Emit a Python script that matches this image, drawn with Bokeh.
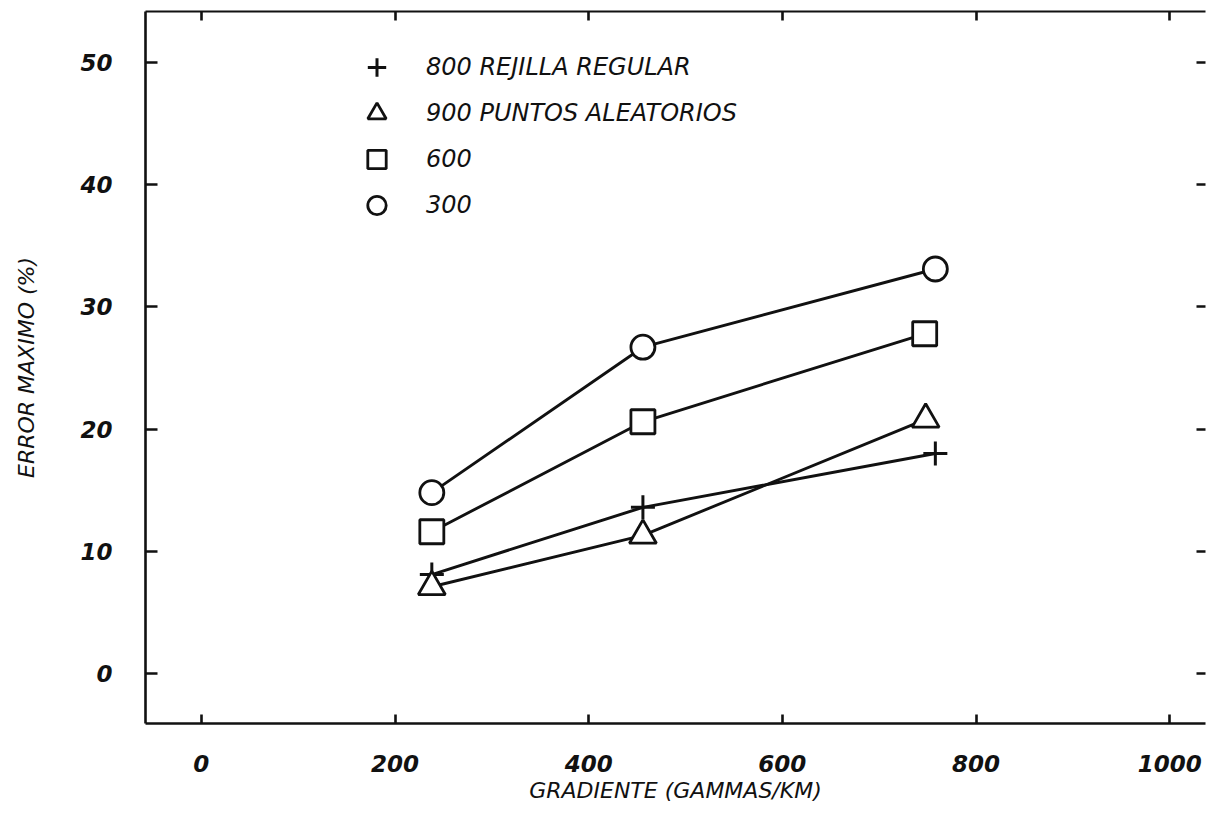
from bokeh.plotting import figure
from bokeh.models import Range1d, LinearAxis, FixedTicker, Legend, LegendItem, CustomLabelingPolicy
from bokeh.embed import file_html
from bokeh.resources import INLINE

# ---- data ----
grad_plus = [238, 456, 758]          # 800 rejilla regular
err_plus = [8.1, 13.6, 18.0]
grad_tri = [238, 456, 748]           # 900 puntos aleatorios
err_tri = [7.1, 11.3, 20.8]
grad_sq = [238, 456, 747]            # 600
err_sq = [11.6, 20.6, 27.8]
grad_circ = [238, 456, 758]          # 300
err_circ = [14.8, 26.7, 33.1]

x_ticks = [0, 200, 400, 600, 800, 1000]
y_ticks = [0, 10, 20, 30, 40, 50]
labels = ["800 REJILLA REGULAR", "900 PUNTOS ALEATORIOS", "600", "300"]

FONT = "DejaVu Sans"
INK = "#111111"

p = figure(width=1209, height=805, output_backend="svg", toolbar_location=None,
           x_range=Range1d(-57.7, 1037.0), y_range=Range1d(-4.09, 54.17),
           min_border_left=145, min_border_right=0, min_border_top=11, min_border_bottom=82)
p.outline_line_color = None
p.grid.visible = False
p.background_fill_color = "white"
p.border_fill_color = "white"

# main axes
for ax in (p.xaxis[0], p.yaxis[0]):
    ax.major_tick_out = 0
    ax.minor_tick_line_color = None
    ax.axis_line_width = 2.6
    ax.axis_line_color = INK
    ax.major_tick_line_width = 2.6
    ax.major_tick_line_color = INK
    ax.major_label_text_font = FONT
    ax.major_label_text_font_style = "bold italic"
    ax.major_label_text_font_size = "23px"
    ax.major_label_text_color = INK
    ax.axis_label_text_font = FONT
    ax.axis_label_text_font_style = "italic"
    ax.axis_label_text_font_size = "22px"
    ax.axis_label_text_color = INK

p.xaxis[0].major_tick_in = 9
p.yaxis[0].major_tick_in = 12
p.xaxis[0].ticker = FixedTicker(ticks=x_ticks)
p.yaxis[0].ticker = FixedTicker(ticks=y_ticks)
p.xaxis[0].axis_label = "GRADIENTE (GAMMAS/KM)"
p.yaxis[0].axis_label = "ERROR MAXIMO (%)"
p.xaxis[0].major_label_standoff = 31
p.xaxis[0].axis_label_standoff = 3
p.yaxis[0].major_label_standoff = 33
p.yaxis[0].axis_label_standoff = 38

# top and right frame axes (ticks only, no labels)
no_labels = CustomLabelingPolicy(code="""
const keep = []
for (const i of indices) { keep.push(i) }
for (const i of keep) { indices.unset(i) }
return indices
""")
top = LinearAxis(ticker=FixedTicker(ticks=x_ticks))
right = LinearAxis(ticker=FixedTicker(ticks=y_ticks))
for ax in (top, right):
    ax.major_tick_in = 9
    ax.major_tick_out = 0
    ax.minor_tick_line_color = None
    ax.major_tick_line_width = 2.6
    ax.major_tick_line_color = INK
    ax.major_label_policy = no_labels
    ax.major_label_standoff = 0
    ax.major_label_text_font_size = "1px"
top.axis_line_width = 2.2
top.axis_line_color = INK
right.axis_line_color = None
p.add_layout(top, "above")
p.add_layout(right, "right")

# series lines
for xs, ys in ((grad_plus, err_plus), (grad_tri, err_tri), (grad_sq, err_sq), (grad_circ, err_circ)):
    p.line(xs, ys, line_color=INK, line_width=2.9)

# markers
r_plus = p.scatter(grad_plus, err_plus, marker="cross", size=24, line_color=INK, line_width=3)
r_tri = p.scatter(grad_tri, err_tri, marker="triangle", size=27, line_color=INK, line_width=2.8,
                  fill_color="white")
r_sq = p.scatter(grad_sq, err_sq, marker="square", size=24, line_color=INK, line_width=2.8,
                 fill_color="white")
r_circ = p.scatter(grad_circ, err_circ, marker="circle", size=24, line_color=INK, line_width=2.8,
                   fill_color="white")

legend = Legend(items=[LegendItem(label=labels[0], renderers=[r_plus]),
                       LegendItem(label=labels[1], renderers=[r_tri]),
                       LegendItem(label=labels[2], renderers=[r_sq]),
                       LegendItem(label=labels[3], renderers=[r_circ])],
                location=(204, 495), padding=0, margin=0,
                glyph_width=55, glyph_height=46, spacing=0, label_height=30,
                label_standoff=22, border_line_color=None, background_fill_alpha=0,
                label_text_font=FONT, label_text_font_style="italic",
                label_text_font_size="24px", label_text_color=INK)
p.add_layout(legend)

open("out.html", "w").write(file_html(p, INLINE))
